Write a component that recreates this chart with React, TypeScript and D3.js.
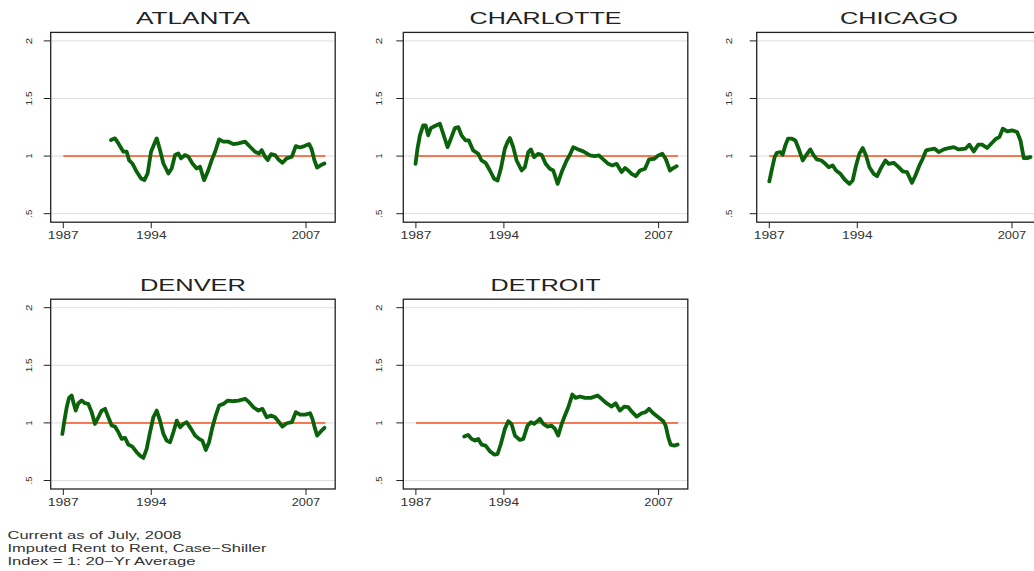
import React from 'react';
import * as d3 from 'd3';

// ---------- DATA ----------
const cities = ['ATLANTA', 'CHARLOTTE', 'CHICAGO', 'DENVER', 'DETROIT'];

const atlanta: [number, number][] = [
  [1990.93, 1.139], [1991.26, 1.154], [1991.54, 1.11], [1991.95, 1.038], [1992.22, 1.038],
  [1992.42, 0.965], [1992.69, 0.936], [1993.05, 0.864], [1993.41, 0.806], [1993.68, 0.791],
  [1993.95, 0.849], [1994.23, 1.038], [1994.51, 1.11], [1994.7, 1.154], [1994.97, 1.052],
  [1995.25, 0.936], [1995.66, 0.849], [1995.93, 0.893], [1996.21, 1.009], [1996.48, 1.023],
  [1996.7, 0.98], [1997.03, 1.009], [1997.31, 0.994], [1997.64, 0.936], [1997.99, 0.893],
  [1998.27, 0.907], [1998.6, 0.791], [1998.9, 0.864], [1999.23, 0.965], [1999.51, 1.038],
  [1999.84, 1.145], [2000.19, 1.125], [2000.61, 1.125], [2001.02, 1.104], [2001.43, 1.11],
  [2001.98, 1.125], [2002.39, 1.081], [2002.8, 1.038], [2003.13, 1.023], [2003.35, 1.052],
  [2003.63, 0.994], [2003.85, 0.965], [2004.12, 1.017], [2004.45, 1.009], [2004.73, 0.971],
  [2005.06, 0.942], [2005.41, 0.98], [2005.83, 0.994], [2006.16, 1.087], [2006.51, 1.075],
  [2006.87, 1.087], [2007.26, 1.104], [2007.47, 1.058], [2007.69, 0.965], [2007.91, 0.901],
  [2008.24, 0.922], [2008.52, 0.936],
];

const charlotte: [number, number][] = [
  [1986.97, 0.933], [1987.13, 1.064], [1987.33, 1.18], [1987.6, 1.267], [1987.8, 1.267],
  [1988.01, 1.18], [1988.23, 1.243], [1988.56, 1.261], [1988.98, 1.281], [1989.25, 1.194],
  [1989.61, 1.078], [1989.88, 1.151], [1990.21, 1.243], [1990.49, 1.252], [1990.76, 1.18],
  [1991.09, 1.136], [1991.36, 1.136], [1991.72, 1.049], [1992.14, 1.02], [1992.41, 0.962],
  [1992.74, 0.942], [1993.1, 0.875], [1993.45, 0.803], [1993.73, 0.788], [1994.0, 0.89],
  [1994.33, 1.064], [1994.55, 1.122], [1994.75, 1.157], [1995.02, 1.078], [1995.3, 0.962],
  [1995.71, 0.875], [1995.98, 0.904], [1996.26, 1.035], [1996.48, 1.058], [1996.75, 0.991],
  [1997.08, 1.02], [1997.36, 1.012], [1997.69, 0.933], [1998.04, 0.89], [1998.32, 0.875],
  [1998.68, 0.759], [1999.01, 0.861], [1999.42, 0.962], [1999.69, 1.012], [1999.97, 1.078],
  [2000.38, 1.058], [2000.79, 1.041], [2001.34, 1.006], [2001.75, 1.0], [2002.08, 1.006],
  [2002.44, 0.971], [2002.85, 0.933], [2003.18, 0.919], [2003.54, 0.933], [2003.95, 0.861],
  [2004.23, 0.896], [2004.5, 0.875], [2004.78, 0.846], [2005.11, 0.826], [2005.46, 0.875],
  [2005.88, 0.89], [2006.21, 0.971], [2006.65, 0.977], [2006.98, 1.006], [2007.31, 1.02],
  [2007.58, 0.977], [2007.94, 0.875], [2008.21, 0.896], [2008.49, 0.913],
];

const chicago: [number, number][] = [
  [1987.0, 0.78], [1987.22, 0.89], [1987.44, 0.991], [1987.63, 1.029], [1987.91, 1.035],
  [1988.1, 1.012], [1988.32, 1.093], [1988.54, 1.151], [1988.87, 1.151], [1989.15, 1.136],
  [1989.42, 1.064], [1989.75, 0.962], [1990.03, 1.006], [1990.38, 1.058], [1990.66, 1.006],
  [1990.93, 0.971], [1991.29, 0.962], [1991.62, 0.933], [1991.89, 0.904], [1992.22, 0.919],
  [1992.5, 0.875], [1992.86, 0.846], [1993.21, 0.797], [1993.6, 0.759], [1993.87, 0.788],
  [1994.15, 0.919], [1994.42, 1.02], [1994.7, 1.07], [1994.97, 1.006], [1995.25, 0.904],
  [1995.6, 0.846], [1995.88, 0.826], [1996.24, 0.904], [1996.57, 0.962], [1996.84, 0.933],
  [1997.25, 0.942], [1997.66, 0.904], [1997.99, 0.867], [1998.35, 0.861], [1998.76, 0.768],
  [1999.04, 0.832], [1999.37, 0.919], [1999.64, 0.977], [1999.92, 1.049], [2000.28, 1.058],
  [2000.63, 1.064], [2000.96, 1.035], [2001.38, 1.058], [2001.79, 1.07], [2002.2, 1.078],
  [2002.61, 1.058], [2003.16, 1.064], [2003.49, 1.099], [2003.85, 1.041], [2004.21, 1.099],
  [2004.54, 1.099], [2004.95, 1.07], [2005.36, 1.116], [2005.69, 1.151], [2005.96, 1.165],
  [2006.24, 1.238], [2006.6, 1.214], [2007.01, 1.223], [2007.42, 1.209], [2007.7, 1.136],
  [2007.97, 0.983], [2008.25, 0.983], [2008.52, 0.991],
];

const denver: [number, number][] = [
  [1986.92, 0.904], [1987.09, 1.02], [1987.28, 1.136], [1987.47, 1.217], [1987.69, 1.238],
  [1987.83, 1.18], [1988.02, 1.107], [1988.24, 1.171], [1988.51, 1.194], [1988.79, 1.171],
  [1989.06, 1.165], [1989.34, 1.093], [1989.61, 0.991], [1989.89, 1.049], [1990.16, 1.107],
  [1990.44, 1.122], [1990.71, 1.049], [1990.99, 0.977], [1991.26, 0.968], [1991.54, 0.919],
  [1991.81, 0.861], [1992.09, 0.87], [1992.36, 0.812], [1992.69, 0.794], [1993.05, 0.745],
  [1993.32, 0.716], [1993.6, 0.696], [1993.87, 0.774], [1994.15, 0.919], [1994.42, 1.049],
  [1994.7, 1.107], [1994.97, 1.02], [1995.25, 0.904], [1995.52, 0.846], [1995.8, 0.832],
  [1996.07, 0.919], [1996.35, 1.02], [1996.62, 0.962], [1996.9, 0.991], [1997.17, 1.006],
  [1997.53, 0.948], [1997.86, 0.89], [1998.19, 0.861], [1998.46, 0.846], [1998.74, 0.765],
  [1999.01, 0.832], [1999.29, 0.962], [1999.56, 1.064], [1999.84, 1.151], [2000.19, 1.165],
  [2000.55, 1.194], [2000.94, 1.188], [2001.43, 1.194], [2001.98, 1.209], [2002.31, 1.18],
  [2002.67, 1.136], [2003.08, 1.107], [2003.41, 1.122], [2003.77, 1.049], [2004.12, 1.064],
  [2004.45, 1.049], [2004.78, 1.006], [2005.06, 0.968], [2005.41, 0.997], [2005.83, 1.006],
  [2006.16, 1.093], [2006.51, 1.072], [2006.93, 1.072], [2007.34, 1.084], [2007.53, 1.035],
  [2007.75, 0.948], [2007.92, 0.89], [2008.24, 0.928], [2008.52, 0.957],
];

const detroit: [number, number][] = [
  [1990.98, 0.881], [1991.31, 0.896], [1991.59, 0.861], [1991.86, 0.846], [1992.14, 0.861],
  [1992.41, 0.812], [1992.74, 0.803], [1993.1, 0.754], [1993.45, 0.725], [1993.73, 0.73],
  [1994.0, 0.817], [1994.33, 0.948], [1994.61, 1.014], [1994.88, 0.991], [1995.16, 0.89],
  [1995.57, 0.852], [1995.85, 0.861], [1996.2, 0.977], [1996.48, 1.006], [1996.75, 0.991],
  [1997.22, 1.035], [1997.5, 0.991], [1997.85, 0.968], [1998.18, 0.977], [1998.46, 0.948],
  [1998.73, 0.89], [1999.01, 0.991], [1999.28, 1.064], [1999.56, 1.136], [1999.89, 1.246],
  [2000.16, 1.217], [2000.52, 1.229], [2000.93, 1.217], [2001.42, 1.217], [2001.97, 1.238],
  [2002.3, 1.209], [2002.71, 1.171], [2003.13, 1.142], [2003.46, 1.171], [2003.81, 1.107],
  [2004.17, 1.142], [2004.5, 1.136], [2004.83, 1.093], [2005.19, 1.055], [2005.6, 1.084],
  [2005.93, 1.093], [2006.21, 1.122], [2006.56, 1.084], [2006.98, 1.049], [2007.39, 1.014],
  [2007.58, 0.977], [2007.8, 0.875], [2007.99, 0.812], [2008.29, 0.803], [2008.57, 0.812],
];

const seriesList = [atlanta, charlotte, chicago, denver, detroit];

const yTicks = [0.5, 1, 1.5, 2];
const yTickLabels = ['.5', '1', '1.5', '2'];
const xTicks = [1987, 1994.25, 2007];
const xTickLabels = ['1987', '1994', '2007'];
const refValue = 1;
const refRange = [1987, 2008.6];

const footerLines = [
  'Current as of July, 2008',
  'Imputed Rent to Rent, Case\u2212Shiller',
  'Index = 1: 20\u2212Yr Average',
];

// ---------- LAYOUT ----------
const W = 1034;
const H = 571;
const COL_X = [50.7, 403.3, 756.7];
const ROW_Y = [32.4, 299.2];
const BOX_W = 284.5;
const BOX_H = 189.8;
const Y_LABEL_X = [29.3, 379.3, 729.3];
const TITLE_W = [114, 152, 117.7, 106, 110];
const Y_LABEL_LEN: Record<string, number> = { '.5': 8, '1': 5, '1.5': 14, '2': 6.5 };
const X_LABEL_LEN = [31, 30.5, 28.5];
const FOOTER_W = [174, 259, 188];
const FONT = '"Liberation Sans", Arial, Helvetica, sans-serif';
const GREEN = '#0a620a';
const RED = '#fb5020';

function Panel({ idx }: { idx: number }) {
  const col = idx % 3;
  const row = Math.floor(idx / 3);
  const left = COL_X[col];
  const top = ROW_Y[row];
  const bottom = top + BOX_H;
  const x = d3.scaleLinear().domain([1987, 2007]).range([left + 12.6, left + 255.3]);
  const y = d3.scaleLinear().domain([0.5, 2]).range([top + 181.3, top + 8.5]);
  const line = d3
    .line<[number, number]>()
    .x((d) => x(d[0]))
    .y((d) => y(d[1]));
  return (
    <g>
      <text
        x={left + BOX_W / 2}
        y={top - 8.7}
        textAnchor="middle"
        fontSize={16}
        fill="#222"
        textLength={TITLE_W[idx]}
        lengthAdjust="spacingAndGlyphs"
      >
        {cities[idx]}
      </text>
      {yTicks.map((t, i) => (
        <g key={'y' + i}>
          <line x1={left} x2={left + BOX_W} y1={y(t)} y2={y(t)} stroke="#dedede" strokeWidth={1} />
          <line x1={left - 7} x2={left} y1={y(t)} y2={y(t)} stroke="#222" strokeWidth={1} />
          <text
            transform={`translate(${Y_LABEL_X[col]},${y(t)}) rotate(-90)`}
            textAnchor="middle"
            dy="0.36em"
            fontSize={8.5}
            fill="#333"
            textLength={Y_LABEL_LEN[yTickLabels[i]]}
            lengthAdjust="spacingAndGlyphs"
          >
            {yTickLabels[i]}
          </text>
        </g>
      ))}
      {xTicks.map((t, i) => (
        <g key={'x' + i}>
          <line x1={x(t)} x2={x(t)} y1={bottom} y2={bottom + 6} stroke="#222" strokeWidth={1} />
          <text
            x={x(t)}
            y={bottom + 16.6}
            textAnchor="middle"
            fontSize={10.2}
            fill="#333"
            textLength={X_LABEL_LEN[i]}
            lengthAdjust="spacingAndGlyphs"
          >
            {xTickLabels[i]}
          </text>
        </g>
      ))}
      <line
        x1={x(refRange[0])}
        x2={x(refRange[1])}
        y1={y(refValue)}
        y2={y(refValue)}
        stroke={RED}
        strokeWidth={1.5}
      />
      <path
        d={line(seriesList[idx]) || ''}
        fill="none"
        stroke={GREEN}
        strokeWidth={3.8}
        strokeLinejoin="round"
        strokeLinecap="round"
      />
      <rect x={left} y={top} width={BOX_W} height={BOX_H} fill="none" stroke="#222" strokeWidth={1.3} />
    </g>
  );
}

export default function App() {
  return (
    <svg
      width={W}
      height={H}
      style={{ position: 'absolute', left: 0, top: 0, background: '#fff', overflow: 'hidden' }}
      fontFamily={FONT}
    >
      <rect x={0} y={0} width={W} height={H} fill="#fff" />
      {cities.map((c, i) => (
        <Panel key={c} idx={i} />
      ))}
      {footerLines.map((t, i) => (
        <text
          key={i}
          x={7.5}
          y={539.3 + i * 12.9}
          fontSize={11.5}
          fill="#333"
          textLength={FOOTER_W[i]}
          lengthAdjust="spacingAndGlyphs"
        >
          {t}
        </text>
      ))}
    </svg>
  );
}
